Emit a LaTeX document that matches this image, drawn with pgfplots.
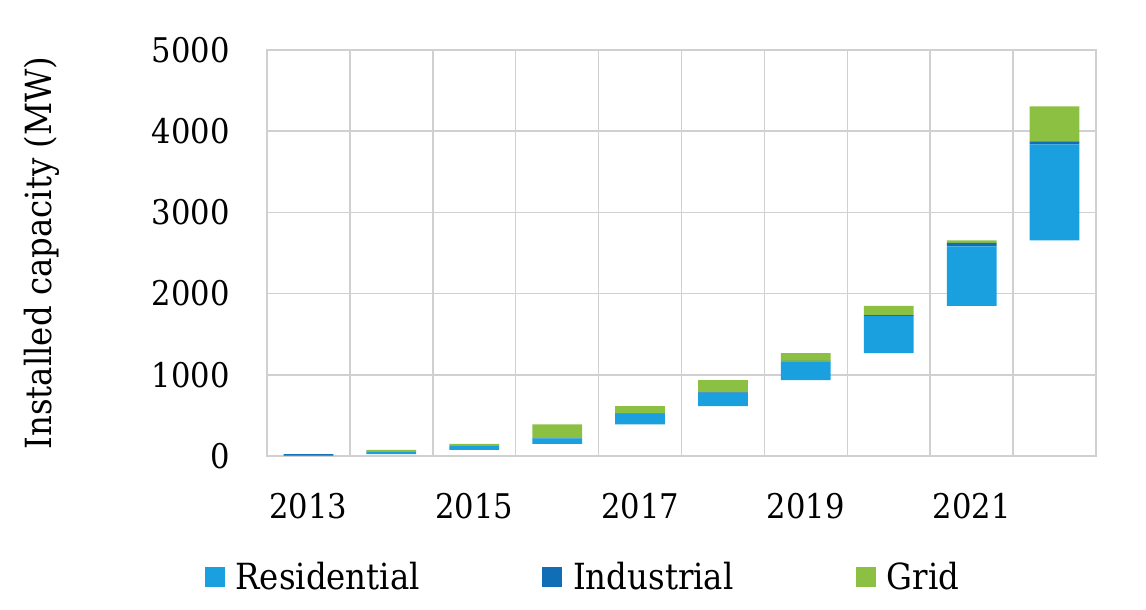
\documentclass[border=0pt]{standalone}
\usepackage{pgfplots}
\pgfplotsset{compat=1.18}
\usepackage{pgfplotstable}
\usepackage{fontspec}
\setmainfont{DejaVu Serif Condensed}
\definecolor{res}{RGB}{26,159,223}
\definecolor{ind}{RGB}{15,110,181}
\definecolor{grd}{RGB}{140,192,67}
\definecolor{gridc}{RGB}{208,208,208}

\pgfplotstableread{
x base res ind grid
0 0    14   8   0
1 22   33   3   16
2 74   55   3   16
3 148  70   3   169
4 390  125  10  90
5 615  163  5   152
6 935  230  7   95
7 1267 455  12  115
8 1849 734  41  33
9 2657 1181 37  430
}\data

\begin{document}
\begin{tikzpicture}[font=\fontsize{25.5pt}{30pt}\selectfont]
\path[use as bounding box] (-200.25pt,-115.5pt) rectangle (659.25pt,342pt);
\begin{axis}[
  scale only axis,
  width=621.75pt, height=304.5pt,
  anchor=south west, at={(0,0)},
  ybar stacked, bar width=0.6,
  xmin=-0.5, xmax=9.5, ymin=0, ymax=5000,
  xtick={0,2,4,6,8},
  xticklabels={2013,2015,2017,2019,2021},
  minor xtick={-0.5,0.5,...,9.5},
  xminorgrids=true,
  ytick={0,1000,2000,3000,4000,5000},
  yticklabels={0,1000,2000,3000,4000,5000},
  ymajorgrids=true,
  major grid style={gridc, line width=1.1pt},
  minor grid style={gridc, line width=1.1pt},
  axis line style={gridc, line width=1.1pt},
  major tick length=0pt, minor tick length=0pt,
  tick style={draw=none},
  yticklabel style={anchor=east, inner sep=0pt, xshift=-27.75pt},
  xticklabel style={anchor=north, inner sep=0pt, yshift=-27.75pt},
  ylabel={Installed capacity (MW)},
  ylabel style={at={(axis description cs:-0.2714,0.5)}, anchor=center, rotate=0,
    font=\fontsize{27pt}{32pt}\selectfont},
  legend columns=3,
  legend cell align=left,
  legend style={draw=none, fill=none, at={(0.3817,-0.298)}, anchor=center,
    font=\fontsize{27pt}{32pt}\selectfont,
    /tikz/every even column/.append style={column sep=90pt},
    /tikz/every odd column/.append style={column sep=6pt}},
  legend image code/.code={\fill[#1] (0pt,-7.5pt) rectangle (15pt,7.5pt);},
]
\addplot[draw=none, fill=none, forget plot] table[x=x, y=base] {\data};
\addplot[draw=none, fill=res] table[x=x, y=res] {\data};
\addplot[draw=none, fill=ind] table[x=x, y=ind] {\data};
\addplot[draw=none, fill=grd] table[x=x, y=grid] {\data};
\legend{Residential, Industrial, Grid}
\end{axis}
\end{tikzpicture}
\end{document}
